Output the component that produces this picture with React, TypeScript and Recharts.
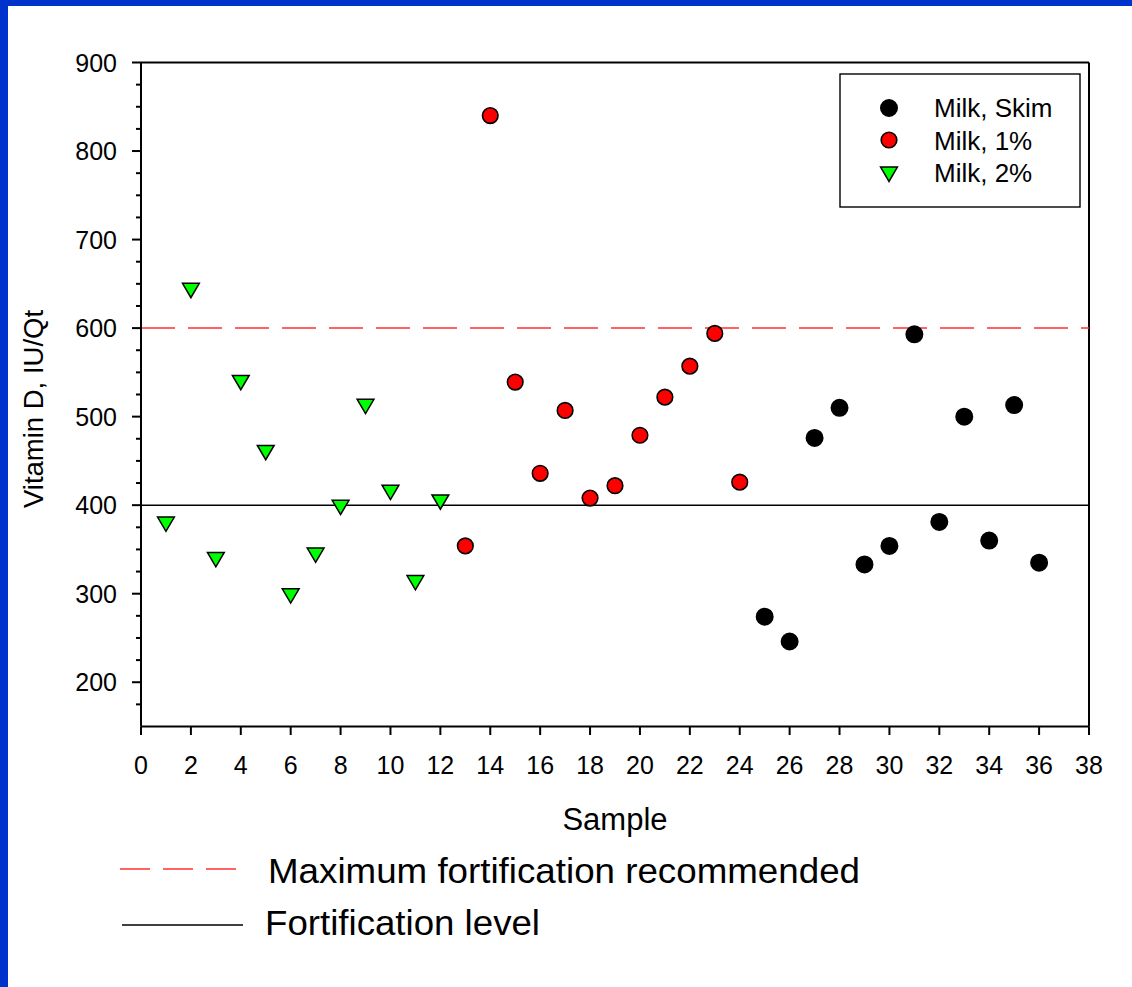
import { ScatterChart, Scatter, XAxis, YAxis, ReferenceLine } from 'recharts';

const FONT = '"Liberation Sans", Arial, Helvetica, sans-serif';

// samples and vitamin D readings (IU/Qt) per milk type
const twoPctSamples = [1, 2, 3, 4, 5, 6, 7, 8, 9, 10, 11, 12];
const twoPctValues = [381, 645, 341, 541, 462, 300, 346, 400, 514, 417, 315, 406];

const onePctSamples = [13, 14, 15, 16, 17, 18, 19, 20, 21, 22, 23, 24];
const onePctValues = [354, 840, 539, 436, 507, 408, 422, 479, 522, 557, 594, 426];

const skimSamples = [25, 26, 27, 28, 29, 30, 31, 32, 33, 34, 35, 36];
const skimValues = [274, 246, 476, 510, 333, 354, 593, 381, 500, 360, 513, 335];

const xTicks = [0, 2, 4, 6, 8, 10, 12, 14, 16, 18, 20, 22, 24, 26, 28, 30, 32, 34, 36, 38];
const yMajorTicks = [200, 300, 400, 500, 600, 700, 800, 900];
const yMinorTicks = [175, 225, 250, 275, 325, 350, 375, 425, 450, 475, 525, 550, 575, 625, 650, 675, 725, 750, 775, 825, 850, 875];

const maxRecommended = 600;
const fortificationLevel = 400;

const seriesNames = ['Milk, Skim', 'Milk, 1%', 'Milk, 2%'];

const toPoints = (xs: number[], ys: number[]) => xs.map((s, i) => ({ sample: s, vitD: ys[i] }));

const skimData = toPoints(skimSamples, skimValues);
const onePctData = toPoints(onePctSamples, onePctValues);
const twoPctData = toPoints(twoPctSamples, twoPctValues);

function Dot({ cx, cy, fill, r = 7.8 }: { cx: number; cy: number; fill: string; r?: number }) {
  return <circle cx={cx} cy={cy} r={r} fill={fill} stroke="#000" strokeWidth={1.6} />;
}

function DownTriangle({ cx, cy }: { cx: number; cy: number }) {
  const pts = `${cx - 8.4},${cy - 4.9} ${cx + 8.4},${cy - 4.9} ${cx},${cy + 9.4}`;
  return <polygon points={pts} fill="#00ff00" stroke="#000" strokeWidth={1.5} strokeLinejoin="miter" />;
}

const YTick = (props: any) => {
  const { x, y, payload } = props;
  const major = yMajorTicks.includes(payload.value);
  return (
    <g>
      <line x1={x - (major ? 9 : 5)} x2={x} y1={y} y2={y} stroke="#000" strokeWidth={2} />
      {major && (
        <text x={x - 24} y={y + 9} textAnchor="end" fontSize={25} fontFamily={FONT} fill="#000">
          {payload.value}
        </text>
      )}
    </g>
  );
};

const XTick = (props: any) => {
  const { x, y, payload } = props;
  return (
    <g>
      <line x1={x} x2={x} y1={y} y2={y + 8.5} stroke="#000" strokeWidth={2} />
      <text x={x} y={y + 47} textAnchor="middle" fontSize={25} fontFamily={FONT} fill="#000">
        {payload.value}
      </text>
    </g>
  );
};

export default function App() {
  return (
    <div style={{ position: 'absolute', left: 0, top: 0, width: 1132, height: 987, background: '#fff', overflow: 'hidden' }}>
      <ScatterChart width={1132} height={987} margin={{ top: 62.5, right: 43, left: 0, bottom: 0 }}>
        <XAxis
          dataKey="sample"
          type="number"
          domain={[0, 38]}
          ticks={xTicks}
          interval={0}
          allowDataOverflow
          height={260.5}
          tickSize={0}
          tickMargin={0}
          tickLine={false}
          tick={<XTick />}
          axisLine={{ stroke: '#000', strokeWidth: 2 }}
        />
        <YAxis
          dataKey="vitD"
          type="number"
          domain={[150, 900]}
          ticks={[...yMinorTicks, ...yMajorTicks].sort((a, b) => a - b)}
          interval={0}
          allowDataOverflow
          width={141}
          tickSize={0}
          tickMargin={0}
          tickLine={false}
          tick={<YTick />}
          axisLine={{ stroke: '#000', strokeWidth: 2 }}
        />
        <ReferenceLine y={900} stroke="#000" strokeWidth={2} />
        <ReferenceLine x={38} stroke="#000" strokeWidth={2} />
        <ReferenceLine y={maxRecommended} stroke="#ff3030" strokeWidth={1.5} strokeDasharray="34 13" />
        <ReferenceLine y={fortificationLevel} stroke="#000" strokeWidth={1.5} />
        <Scatter
          name={seriesNames[2]}
          data={twoPctData}
          isAnimationActive={false}
          shape={(p: any) => <DownTriangle cx={p.cx} cy={p.cy} />}
        />
        <Scatter
          name={seriesNames[1]}
          data={onePctData}
          isAnimationActive={false}
          shape={(p: any) => <Dot cx={p.cx} cy={p.cy} fill="#ff0000" />}
        />
        <Scatter
          name={seriesNames[0]}
          data={skimData}
          isAnimationActive={false}
          shape={(p: any) => <Dot cx={p.cx} cy={p.cy} fill="#000" r={8.2} />}
        />
      </ScatterChart>

      <svg
        width={1132}
        height={987}
        style={{ position: 'absolute', left: 0, top: 0, pointerEvents: 'none' }}
        fontFamily={FONT}
      >
        {/* axis titles */}
        <text x={615} y={830} textAnchor="middle" fontSize={31} fill="#000">Sample</text>
        <text transform="translate(43,409) rotate(-90)" textAnchor="middle" fontSize={27.5} fill="#000">
          Vitamin D, IU/Qt
        </text>

        {/* series legend box */}
        <rect x={840} y={74} width={240} height={133} fill="#fff" stroke="#000" strokeWidth={1.4} />
        <Dot cx={889} cy={108} fill="#000" r={8.2} />
        <text x={934} y={117} fontSize={26} fill="#000">{seriesNames[0]}</text>
        <Dot cx={889} cy={140} fill="#ff0000" />
        <text x={934} y={150} fontSize={26} fill="#000">{seriesNames[1]}</text>
        <DownTriangle cx={889} cy={172} />
        <text x={934} y={182} fontSize={26} fill="#000">{seriesNames[2]}</text>

        {/* reference line key */}
        <line x1={120} x2={236} y1={869} y2={869} stroke="#ff3030" strokeWidth={1.5} strokeDasharray="30 13" />
        <text x={268} y={883} fontSize={35} textLength={592} lengthAdjust="spacingAndGlyphs" fill="#000">
          Maximum fortification recommended
        </text>
        <line x1={122} x2={243} y1={925} y2={925} stroke="#000" strokeWidth={1.4} />
        <text x={265} y={935} fontSize={35} textLength={275} lengthAdjust="spacingAndGlyphs" fill="#000">
          Fortification level
        </text>
      </svg>

      <div style={{ position: 'absolute', left: 0, top: 0, width: 1132, height: 6, background: '#0033cc' }} />
      <div style={{ position: 'absolute', left: 0, top: 0, width: 8, height: 987, background: '#0033cc' }} />
    </div>
  );
}
